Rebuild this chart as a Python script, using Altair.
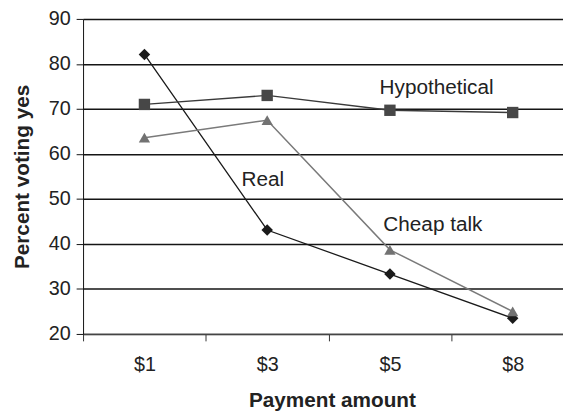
import json
import altair as alt
import pandas as pd

# ---- data ----
categories = ["$1", "$3", "$5", "$8"]
series_names = ["Real", "Hypothetical", "Cheap talk"]
real = [82.1, 43.1, 33.3, 23.5]
hypothetical = [71.0, 73.0, 69.7, 69.2]
cheap_talk = [63.6, 67.5, 38.7, 25.0]

label_text = ["Hypothetical", "Real", "Cheap talk"]
label_x = [2.38, 0.965, 2.35]
label_y = [74.6, 54.2, 44.1]

y_ticks = [20, 30, 40, 50, 60, 70, 80, 90]
x_tick_positions = [-0.5, 0.5, 1.5, 2.5]

line_colors = ["#1a1a1a", "#3a3a3a", "#7a7a7a"]
point_colors = ["#1a1a1a", "#474747", "#727272"]
shapes = ["diamond", "square", "triangle-up"]
sizes = [135, 130, 155]
widths = [1.3, 1.5, 1.1]

rows = []
for name, vals in zip(series_names, [real, hypothetical, cheap_talk]):
    for i, (cat, v) in enumerate(zip(categories, vals)):
        rows.append({"series": name, "idx": i, "cat": cat, "value": v})
df = pd.DataFrame(rows)
labels_df = pd.DataFrame({"text": label_text, "idx": label_x, "value": label_y})

W, H = 486, 319
x_domain = [-0.5, 3.41]
step = W / (x_domain[1] - x_domain[0])

x_axis = alt.Axis(
    values=x_tick_positions,
    labelExpr=f"{json.dumps(categories)}[round(datum.value + 0.5)]",
    labelOffset=step / 2,
    labelFlush=False,
    labelPadding=14,
    labelFontSize=20,
    tickSize=7,
    grid=False,
    domainColor="#444444",
    domainWidth=1.3,
    tickColor="#333333",
    title="Payment amount",
    titleFontSize=21,
    titleFontWeight="bold",
    titleX=252,
    titleY=73.5,
    titleAlign="center",
    titleBaseline="alphabetic",
)
y_axis = alt.Axis(
    values=y_ticks,
    labelPadding=6,
    labelFontSize=20,
    tickSize=7,
    grid=True,
    gridColor="#151515",
    gridWidth=1.5,
    domainColor="#111111",
    tickColor="#111111",
    title="Percent voting yes",
    titleFontSize=21,
    titleFontWeight="bold",
    titlePadding=16,
)

x_enc = alt.X("idx:Q", scale=alt.Scale(domain=x_domain, nice=False, zero=False), axis=x_axis)
y_enc = alt.Y("value:Q", scale=alt.Scale(domain=[20, 90], nice=False, zero=False), axis=y_axis)

base = alt.Chart(df)
lines = base.mark_line().encode(
    x=x_enc,
    y=y_enc,
    color=alt.Color("series:N", scale=alt.Scale(domain=series_names, range=line_colors), legend=None),
    strokeWidth=alt.StrokeWidth("series:N", scale=alt.Scale(domain=series_names, range=widths), legend=None),
    order="idx:Q",
)
points = base.mark_point(filled=True, opacity=1, strokeWidth=0).encode(
    x="idx:Q",
    y="value:Q",
    shape=alt.Shape("series:N", scale=alt.Scale(domain=series_names, range=shapes), legend=None),
    fill=alt.Fill("series:N", scale=alt.Scale(domain=series_names, range=point_colors), legend=None),
    size=alt.Size("series:N", scale=alt.Scale(domain=series_names, range=sizes), legend=None),
)
texts = alt.Chart(labels_df).mark_text(
    fontSize=21, color="#222222", align="center", baseline="middle"
).encode(x="idx:Q", y="value:Q", text="text:N")

chart = (
    alt.layer(lines, points, texts)
    .properties(
        width=W,
        height=H,
        autosize=alt.AutoSizeParams(type="none"),
        padding={"left": 76, "top": 8.5, "right": 0, "bottom": 78},
    )
    .configure(font="Liberation Sans")
    .configure_axis(labelColor="#222222", titleColor="#222222")
    .configure_view(stroke="transparent")
)

chart.save("out.html", embed_options={"renderer": "svg", "actions": False})
